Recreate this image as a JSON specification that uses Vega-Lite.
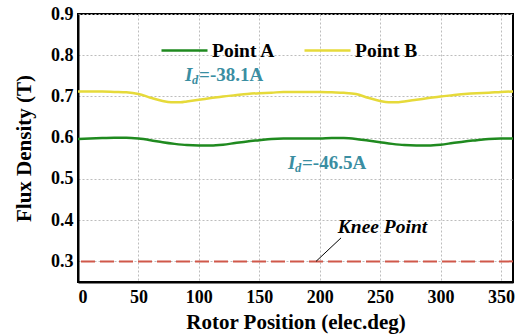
{
  "$schema": "https://vega.github.io/schema/vega-lite/v6.json",
  "width": 435,
  "height": 268,
  "autosize": {"type": "none"},
  "padding": {"left": 78, "top": 14, "right": 14, "bottom": 53},
  "background": "white",
  "config": {
    "font": "Liberation Serif",
    "view": {"stroke": "black", "strokeWidth": 2},
    "axis": {
      "labelFont": "Liberation Serif", "labelFontWeight": "bold", "labelFontSize": 18, "labelColor": "black",
      "titleFont": "Liberation Serif", "titleFontWeight": "bold", "titleFontSize": 21, "titleColor": "black",
      "domainColor": "black", "domainWidth": 2, "ticks": false,
      "gridColor": "#bdbdbd", "gridDash": [2, 2], "gridWidth": 1
    }
  },
  "datasets": {
    "curves": [
      {"pos": 0, "B": 0.597, "series": "Point A"}, {"pos": 10, "B": 0.598, "series": "Point A"}, {"pos": 20, "B": 0.599, "series": "Point A"}, {"pos": 30, "B": 0.6, "series": "Point A"}, {"pos": 40, "B": 0.6, "series": "Point A"}, {"pos": 50, "B": 0.598, "series": "Point A"}, {"pos": 60, "B": 0.594, "series": "Point A"}, {"pos": 70, "B": 0.589, "series": "Point A"}, {"pos": 80, "B": 0.585, "series": "Point A"}, {"pos": 90, "B": 0.582, "series": "Point A"}, {"pos": 100, "B": 0.581, "series": "Point A"}, {"pos": 110, "B": 0.581, "series": "Point A"}, {"pos": 120, "B": 0.583, "series": "Point A"}, {"pos": 130, "B": 0.587, "series": "Point A"}, {"pos": 140, "B": 0.591, "series": "Point A"}, {"pos": 150, "B": 0.594, "series": "Point A"}, {"pos": 160, "B": 0.597, "series": "Point A"}, {"pos": 170, "B": 0.598, "series": "Point A"}, {"pos": 180, "B": 0.598, "series": "Point A"}, {"pos": 190, "B": 0.598, "series": "Point A"}, {"pos": 200, "B": 0.598, "series": "Point A"}, {"pos": 210, "B": 0.599, "series": "Point A"}, {"pos": 220, "B": 0.599, "series": "Point A"}, {"pos": 230, "B": 0.597, "series": "Point A"}, {"pos": 240, "B": 0.593, "series": "Point A"}, {"pos": 250, "B": 0.589, "series": "Point A"}, {"pos": 260, "B": 0.585, "series": "Point A"}, {"pos": 270, "B": 0.582, "series": "Point A"}, {"pos": 280, "B": 0.581, "series": "Point A"}, {"pos": 290, "B": 0.581, "series": "Point A"}, {"pos": 300, "B": 0.583, "series": "Point A"}, {"pos": 310, "B": 0.587, "series": "Point A"}, {"pos": 320, "B": 0.591, "series": "Point A"}, {"pos": 330, "B": 0.594, "series": "Point A"}, {"pos": 340, "B": 0.597, "series": "Point A"}, {"pos": 350, "B": 0.598, "series": "Point A"}, {"pos": 360, "B": 0.598, "series": "Point A"},
      {"pos": 0, "B": 0.712, "series": "Point B"}, {"pos": 10, "B": 0.712, "series": "Point B"}, {"pos": 20, "B": 0.712, "series": "Point B"}, {"pos": 30, "B": 0.711, "series": "Point B"}, {"pos": 40, "B": 0.71, "series": "Point B"}, {"pos": 50, "B": 0.706, "series": "Point B"}, {"pos": 60, "B": 0.697, "series": "Point B"}, {"pos": 70, "B": 0.689, "series": "Point B"}, {"pos": 77, "B": 0.686, "series": "Point B"}, {"pos": 85, "B": 0.686, "series": "Point B"}, {"pos": 90, "B": 0.688, "series": "Point B"}, {"pos": 100, "B": 0.692, "series": "Point B"}, {"pos": 110, "B": 0.696, "series": "Point B"}, {"pos": 120, "B": 0.7, "series": "Point B"}, {"pos": 130, "B": 0.703, "series": "Point B"}, {"pos": 140, "B": 0.706, "series": "Point B"}, {"pos": 150, "B": 0.708, "series": "Point B"}, {"pos": 160, "B": 0.709, "series": "Point B"}, {"pos": 170, "B": 0.711, "series": "Point B"}, {"pos": 180, "B": 0.711, "series": "Point B"}, {"pos": 190, "B": 0.711, "series": "Point B"}, {"pos": 200, "B": 0.711, "series": "Point B"}, {"pos": 210, "B": 0.71, "series": "Point B"}, {"pos": 220, "B": 0.709, "series": "Point B"}, {"pos": 230, "B": 0.706, "series": "Point B"}, {"pos": 240, "B": 0.697, "series": "Point B"}, {"pos": 250, "B": 0.689, "series": "Point B"}, {"pos": 257, "B": 0.686, "series": "Point B"}, {"pos": 263, "B": 0.686, "series": "Point B"}, {"pos": 270, "B": 0.688, "series": "Point B"}, {"pos": 280, "B": 0.692, "series": "Point B"}, {"pos": 290, "B": 0.696, "series": "Point B"}, {"pos": 300, "B": 0.7, "series": "Point B"}, {"pos": 310, "B": 0.703, "series": "Point B"}, {"pos": 320, "B": 0.706, "series": "Point B"}, {"pos": 330, "B": 0.708, "series": "Point B"}, {"pos": 340, "B": 0.709, "series": "Point B"}, {"pos": 350, "B": 0.711, "series": "Point B"}, {"pos": 360, "B": 0.712, "series": "Point B"}
    ],
    "knee": [{"B": 0.3}],
    "ann": [
      {"x": 88.6, "y": 0.737, "txt": "=-38.1A"},
      {"x": 173.8, "y": 0.5235, "txt": "=-46.5A"}
    ],
    "kneeLabel": [{"x": 215, "y": 0.37, "txt": "Knee Point"}],
    "leader": [{"x": 197, "y": 0.3, "x2": 217.7, "y2": 0.357}]
  },
  "layer": [
    {
      "data": {"name": "knee"},
      "mark": {"type": "rule", "color": "#d0584a", "strokeWidth": 2, "strokeDash": [14, 5]},
      "encoding": {"y": {"field": "B", "type": "quantitative"}}
    },
    {
      "data": {"name": "curves"},
      "mark": {"type": "line", "strokeWidth": 2.5, "interpolate": "monotone"},
      "encoding": {
        "x": {"field": "pos", "type": "quantitative", "scale": {"domain": [0, 360], "nice": false}, "axis": {"values": [0, 50, 100, 150, 200, 250, 300, 350], "title": "Rotor Position (elec.deg)", "labelPadding": 6, "titlePadding": 5}},
        "y": {"field": "B", "type": "quantitative", "scale": {"domain": [0.25, 0.9], "nice": false, "zero": false}, "axis": {"values": [0.3, 0.4, 0.5, 0.6, 0.7, 0.8, 0.9], "format": ".1f", "title": "Flux Density (T)", "labelPadding": 5, "titlePadding": 16}},
        "color": {
          "field": "series", "type": "nominal",
          "scale": {"domain": ["Point A", "Point B"], "range": ["#1f8a1f", "#e6da3a"]},
          "legend": {
            "title": null, "orient": "none", "direction": "horizontal", "legendX": 82, "legendY": 12,
            "symbolType": "stroke", "symbolSize": 2116, "symbolStrokeWidth": 2.5,
            "labelFont": "Liberation Serif", "labelFontWeight": "bold", "labelFontSize": 19.5, "labelColor": "black",
            "labelOffset": 3, "columnPadding": 23
          }
        }
      }
    },
    {
      "data": {"name": "leader"},
      "mark": {"type": "rule", "color": "black", "strokeWidth": 1},
      "encoding": {
        "x": {"field": "x", "type": "quantitative"},
        "y": {"field": "y", "type": "quantitative"},
        "x2": {"field": "x2"},
        "y2": {"field": "y2"}
      }
    },
    {
      "data": {"name": "kneeLabel"},
      "mark": {"type": "text", "align": "left", "baseline": "alphabetic", "font": "Liberation Serif", "fontStyle": "italic", "fontWeight": "bold", "fontSize": 19.5, "color": "black"},
      "encoding": {
        "x": {"field": "x", "type": "quantitative"},
        "y": {"field": "y", "type": "quantitative"},
        "text": {"field": "txt"}
      }
    },
    {
      "data": {"name": "ann"},
      "mark": {"type": "text", "align": "left", "baseline": "alphabetic", "font": "Liberation Serif", "fontStyle": "italic", "fontWeight": "bold", "fontSize": 19, "color": "#3a8ea2", "text": "I"},
      "encoding": {
        "x": {"field": "x", "type": "quantitative"},
        "y": {"field": "y", "type": "quantitative"}
      }
    },
    {
      "data": {"name": "ann"},
      "mark": {"type": "text", "align": "left", "baseline": "alphabetic", "font": "Liberation Serif", "fontStyle": "italic", "fontWeight": "bold", "fontSize": 12.5, "color": "#3a8ea2", "text": "d", "dx": 7, "dy": 3},
      "encoding": {
        "x": {"field": "x", "type": "quantitative"},
        "y": {"field": "y", "type": "quantitative"}
      }
    },
    {
      "data": {"name": "ann"},
      "mark": {"type": "text", "align": "left", "baseline": "alphabetic", "font": "Liberation Serif", "fontWeight": "bold", "fontSize": 19, "color": "#3a8ea2", "dx": 14},
      "encoding": {
        "x": {"field": "x", "type": "quantitative"},
        "y": {"field": "y", "type": "quantitative"},
        "text": {"field": "txt"}
      }
    }
  ]
}
